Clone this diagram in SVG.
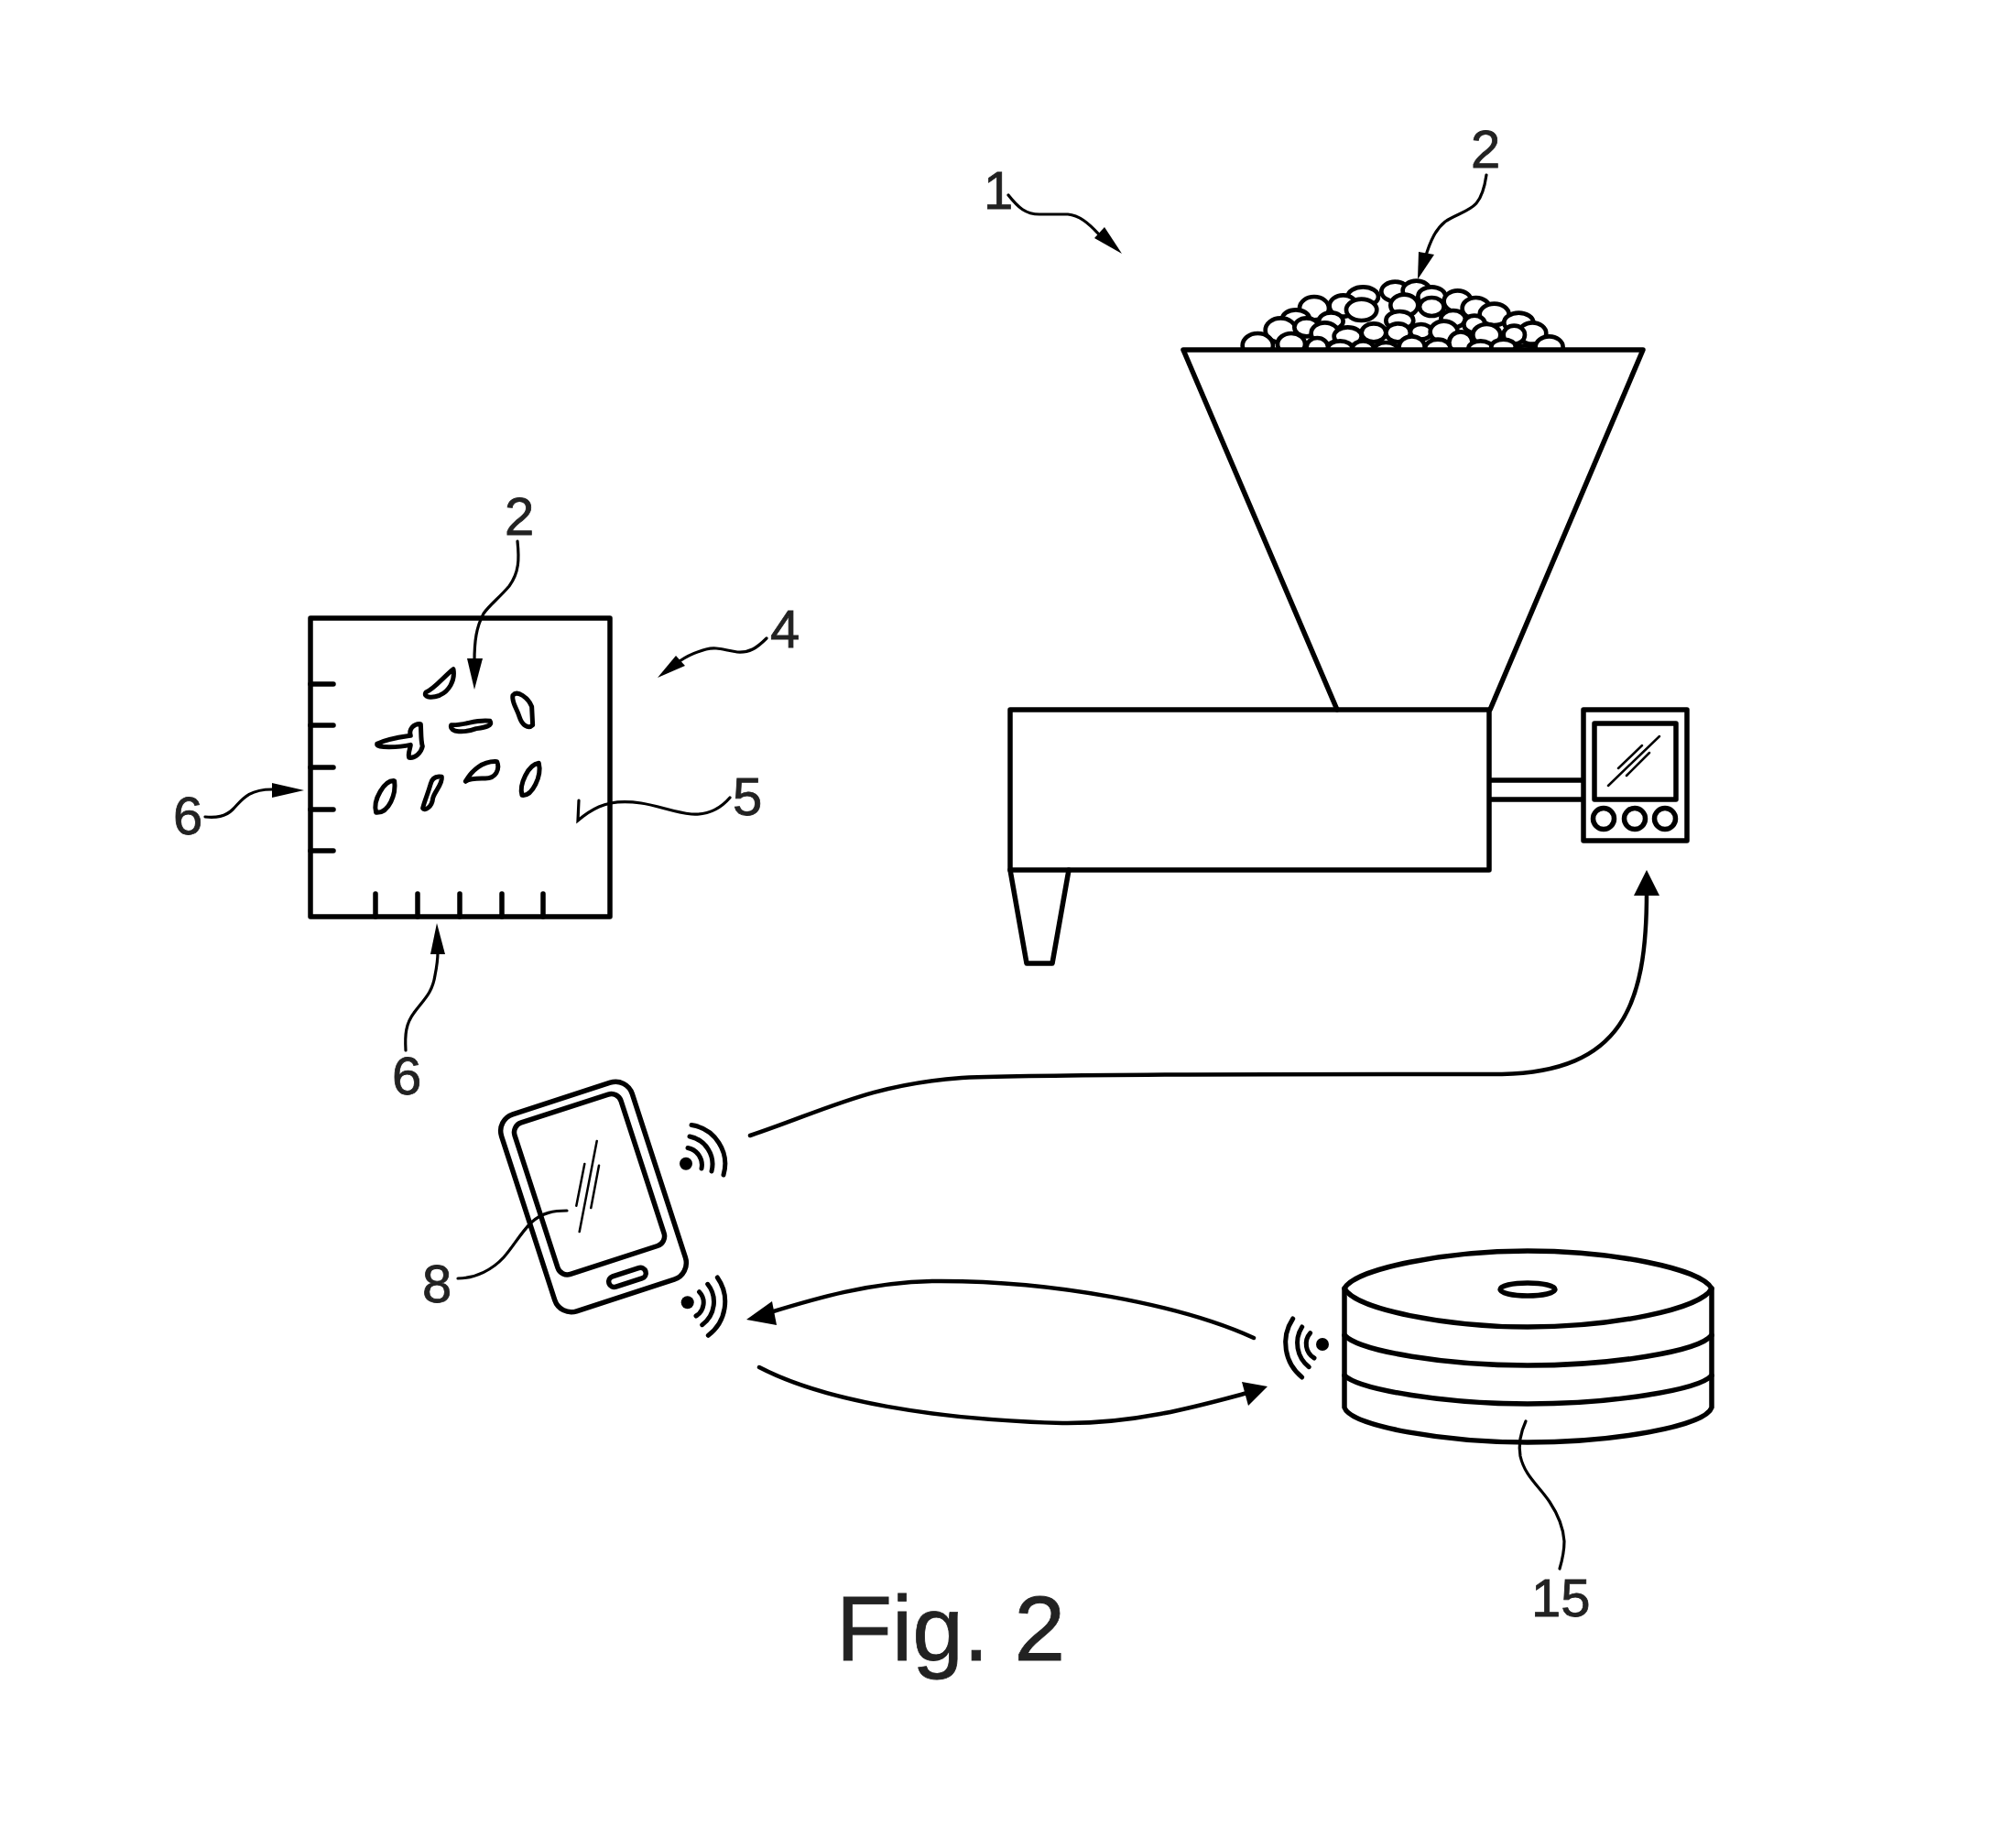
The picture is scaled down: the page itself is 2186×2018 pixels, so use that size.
<svg xmlns="http://www.w3.org/2000/svg" width="2186" height="2018" viewBox="0 0 2186 2018">
<style>
.o{fill:none;stroke:#000;stroke-width:5.5;stroke-linejoin:round;stroke-linecap:round}
.thin{fill:none;stroke:#000;stroke-width:2.5;stroke-linecap:round}
.lead{fill:none;stroke:#000;stroke-width:3.2;stroke-linecap:round}
.arc{fill:none;stroke:#000;stroke-width:5;stroke-linecap:round}
.flow{fill:none;stroke:#000;stroke-width:4.5;stroke-linecap:round}
.head{fill:#000}
.bean{fill:#fff;stroke:#000;stroke-width:14}
.grain{fill:#fff;stroke:#000;stroke-width:15;stroke-linejoin:round}
text{font-family:"Liberation Sans",Arial,sans-serif;font-size:58px;fill:#222;stroke:#222;stroke-width:.8}
</style>
<defs><clipPath id="pileClip"><rect x="0" y="0" width="1300" height="306"/></clipPath></defs>
<rect width="2186" height="2018" fill="#fff"/>

<g id="pile" transform="translate(1320,280) scale(.3333)">
<g clip-path="url(#pileClip)">
<ellipse class="bean" cx="610" cy="115" rx="45" ry="32"/><ellipse class="bean" cx="680" cy="112" rx="45" ry="32"/><ellipse class="bean" cx="505" cy="132" rx="50" ry="32"/><ellipse class="bean" cx="730" cy="132" rx="45" ry="32"/>
<ellipse class="bean" cx="815" cy="147" rx="45" ry="35"/><ellipse class="bean" cx="440" cy="162" rx="45" ry="35"/><ellipse class="bean" cx="345" cy="170" rx="48" ry="38"/><ellipse class="bean" cx="875" cy="170" rx="45" ry="35"/>
<ellipse class="bean" cx="935" cy="190" rx="48" ry="35"/><ellipse class="bean" cx="285" cy="205" rx="45" ry="30"/><ellipse class="bean" cx="1015" cy="217" rx="48" ry="32"/>
<ellipse class="bean" cx="730" cy="165" rx="40" ry="30"/><ellipse class="bean" cx="500" cy="175" rx="50" ry="35"/><ellipse class="bean" cx="640" cy="160" rx="45" ry="35"/>
<ellipse class="bean" cx="400" cy="212" rx="40" ry="28"/><ellipse class="bean" cx="800" cy="205" rx="40" ry="28"/><ellipse class="bean" cx="870" cy="222" rx="35" ry="28"/><ellipse class="bean" cx="235" cy="242" rx="50" ry="40"/>
<ellipse class="bean" cx="320" cy="232" rx="40" ry="30"/><ellipse class="bean" cx="625" cy="210" rx="45" ry="30"/><ellipse class="bean" cx="1060" cy="252" rx="45" ry="35"/><ellipse class="bean" cx="1000" cy="257" rx="35" ry="30"/>
<ellipse class="bean" cx="380" cy="252" rx="45" ry="35"/><ellipse class="bean" cx="540" cy="250" rx="40" ry="30"/><ellipse class="bean" cx="455" cy="262" rx="45" ry="30"/><ellipse class="bean" cx="620" cy="250" rx="40" ry="30"/><ellipse class="bean" cx="695" cy="247" rx="35" ry="25"/><ellipse class="bean" cx="770" cy="247" rx="45" ry="35"/><ellipse class="bean" cx="910" cy="257" rx="45" ry="35"/>
<ellipse class="bean" cx="160" cy="292" rx="50" ry="40"/><ellipse class="bean" cx="270" cy="287" rx="45" ry="35"/><ellipse class="bean" cx="355" cy="297" rx="35" ry="30"/><ellipse class="bean" cx="430" cy="302" rx="40" ry="25"/><ellipse class="bean" cx="505" cy="302" rx="35" ry="25"/><ellipse class="bean" cx="580" cy="307" rx="40" ry="25"/><ellipse class="bean" cx="665" cy="297" rx="42" ry="35"/><ellipse class="bean" cx="750" cy="302" rx="42" ry="30"/><ellipse class="bean" cx="825" cy="282" rx="38" ry="35"/><ellipse class="bean" cx="890" cy="302" rx="40" ry="25"/><ellipse class="bean" cx="965" cy="297" rx="40" ry="25"/><ellipse class="bean" cx="1035" cy="307" rx="35" ry="15"/><ellipse class="bean" cx="1115" cy="297" rx="45" ry="35"/>
</g>
</g>

<g id="hopper">
<path class="o" d="M1292,382H1794L1627,775M1292,382L1460,775"/>
<rect class="o" x="1103" y="775" width="523" height="175"/>
<path class="o" d="M1103,950L1121,1052H1149L1167,950"/>
<path class="o" d="M1627,852H1728M1627,873H1728"/>
</g>

<g id="controller">
<rect class="o" x="1729" y="775" width="113" height="143"/>
<rect class="o" x="1741" y="790" width="89" height="83"/>
<circle class="o" cx="1751" cy="894" r="11.5"/><circle class="o" cx="1785" cy="894" r="11.5"/><circle class="o" cx="1818" cy="894" r="11.5"/>
<path class="thin" d="M1756,858L1812,804M1767,839L1793,814M1776,847L1801,822"/>
</g>

<g id="sample-card">
<rect class="o" x="339" y="675" width="327" height="326"/>
<path class="o" d="M339,747H364M339,792H364M339,838H364M339,884H364M339,929H364M410,976V1001M456,976V1001M502,976V1001M548,976V1001M593,976V1001"/>
<g transform="translate(320,640) scale(.3333)">
<path class="grain" d="M435,348C465,335 495,295 525,272C532,310 510,345 480,358C455,368 425,365 435,348Z"/>
<path class="grain" d="M720,358C735,340 770,365 782,395L785,455C770,470 750,455 742,430C733,400 715,380 720,358Z"/>
<path class="grain" d="M518,455C560,458 600,435 645,442C655,458 630,462 600,467C565,480 510,482 518,455Z"/>
<path class="grain" d="M275,517C310,500 350,495 385,490C378,470 395,450 418,452C420,475 418,505 424,525C420,545 400,565 380,562C375,550 385,530 385,520C350,528 270,532 275,517Z"/>
<path class="grain" d="M565,640C585,605 620,572 668,575C678,600 665,630 630,630C610,630 580,628 565,640Z"/>
<path class="grain" d="M750,685C740,650 770,585 805,580C815,620 785,690 750,685Z"/>
<path class="grain" d="M272,742C260,700 300,635 332,638C338,680 315,745 272,742Z"/>
<path class="grain" d="M425,728C430,705 442,680 450,650C455,628 470,622 487,625C490,650 465,670 458,695C455,725 430,738 425,728Z"/>
</g>
</g>

<g id="phone">
<g transform="translate(648,1307) rotate(-18)">
<rect class="o" x="-75" y="-113" width="150" height="226" rx="19"/>
<rect class="o" x="-64.5" y="-101.5" width="122" height="174" rx="11" transform="translate(3.5,0)"/>
<rect class="o" x="-13" y="89" width="42" height="12" rx="6"/>
</g>
<path class="thin" d="M651.7,1246L632.7,1345M638.3,1271L629.3,1316.7M654,1272.7L645.3,1319"/>
</g>

<g id="phone-signal-out">
<circle cx="749" cy="1270.7" r="7"/>
<path class="arc" d="M751,1253.5A19,19 0 0 1 766,1276M753,1241A31,31 0 0 1 777,1279M755,1228.5A43,43 0 0 1 790,1283"/>
</g>
<g id="phone-signal-in">
<circle cx="750.7" cy="1422.3" r="7"/>
<path class="arc" d="M763.5,1410.7A17,17 0 0 1 760,1437M772.7,1402.3A31,31 0 0 1 766.7,1446.7M783.3,1395A46,46 0 0 1 773.3,1458.3"/>
</g>
<g id="server-signal">
<circle cx="1444" cy="1468" r="7"/>
<path class="arc" d="M1430.7,1455.7A18,18 0 0 0 1435,1483M1421.7,1449A33,33 0 0 0 1429.3,1492.7M1411.7,1440A48,48 0 0 0 1421.7,1504"/>
</g>

<g id="server">
<path class="o" d="M1468,1407C1480,1385 1580,1366 1668,1366C1760,1366 1857,1385 1869,1407C1857,1430 1760,1449 1668,1449C1580,1449 1480,1430 1468,1407Z"/>
<path class="o" d="M1468,1407V1537C1475,1558 1580,1575 1668,1575C1760,1575 1862,1558 1869,1537V1407"/>
<path class="o" d="M1468,1458C1485,1476 1580,1491 1668,1491C1760,1491 1855,1476 1869,1458"/>
<path class="o" d="M1468,1502C1485,1518 1580,1533 1668,1533C1760,1533 1855,1518 1869,1502"/>
<ellipse class="o" cx="1668" cy="1408" rx="30" ry="7"/>
</g>

<g id="connectors">
<path class="flow" d="M819,1240C900,1213 950,1184 1050,1177C1180,1172 1500,1173 1640,1173C1770,1170 1798,1100 1798,975"/>
<polygon class="head" points="1798,950 1784,978 1812,978"/>
<path class="flow" d="M1369,1461C1290,1425 1150,1398 1020,1399C950,1400 890,1418 838,1434"/>
<polygon class="head" points="815,1441 843,1421 848,1447"/>
<path class="flow" d="M829,1493C900,1530 1020,1550 1160,1554C1240,1555 1310,1535 1362,1521"/>
<polygon class="head" points="1384,1514 1356,1509 1363,1535"/>
</g>

<g id="leaders">
<path class="lead" d="M1101,213C1112,227 1120,234 1135,234L1166,234C1178,235 1188,243 1200,256"/>
<polygon class="head" points="1225,277 1206,248 1195,260"/>
<path class="lead" d="M1623,191C1621,205 1618,215 1612,222C1604,231 1590,234 1578,242C1568,250 1562,262 1556,282"/>
<polygon class="head" points="1548,305 1549,275 1566,278"/>
<path class="lead" d="M565,591C567,610 567,625 556,640C545,653 535,660 528,670C520,685 518,700 518,722"/>
<polygon class="head" points="518,753 510,719 527,719"/>
<path class="lead" d="M837,697C826,708 818,713 805,712C790,710 783,706 771,709C760,712 752,715 742,722"/>
<polygon class="head" points="718,740 738,716 748,727"/>
<path class="lead" d="M224,892C236,893 246,892 254,884C264,874 270,862 297,862"/>
<polygon class="head" points="332,863 297,855 297,871"/>
<path class="lead" d="M443,1147C442,1130 443,1118 452,1106C462,1092 472,1085 475,1065C477,1055 478,1050 478,1040"/>
<polygon class="head" points="477,1008 470,1042 486,1042"/>
<path class="lead" d="M797,871C785,885 770,890 755,889C735,887 720,880 700,877C680,874 665,876 654,881C645,885 638,890 631,896L632,874"/>
<path class="lead" d="M619,1322C605,1322 592,1324 580,1335C568,1347 560,1362 550,1373C538,1386 520,1396 500,1396"/>
<path class="lead" d="M1666,1552C1660,1565 1658,1578 1660,1590C1665,1612 1680,1622 1692,1640C1700,1652 1707,1668 1708,1683C1708,1695 1706,1703 1703,1713"/>
</g>

<g id="labels">
<text x="1074" y="228">1</text>
<text x="1606" y="183">2</text>
<text x="551" y="584">2</text>
<text x="841" y="707">4</text>
<text x="189" y="911">6</text>
<text x="800" y="890">5</text>
<text x="428" y="1195">6</text>
<text x="461" y="1422">8</text>
<text x="1672" y="1765">15</text>
<text x="913" y="1813" style="font-size:100px">Fig. 2</text>
</g>
</svg>
